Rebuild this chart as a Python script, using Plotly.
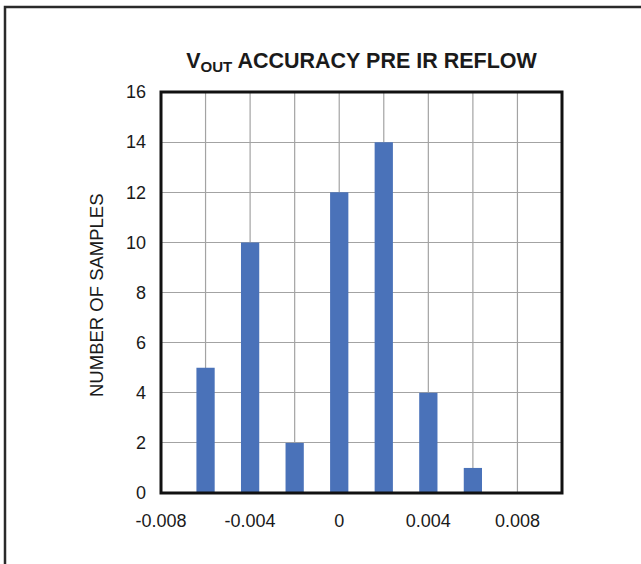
import plotly.graph_objects as go

# Histogram bins (V_OUT error) and counts
bin_centers = [-0.006, -0.004, -0.002, 0.0, 0.002, 0.004, 0.006, 0.008]
sample_counts = [5, 10, 2, 12, 14, 4, 1, 0]

x_tick_vals = [-0.008, -0.004, 0, 0.004, 0.008]
x_tick_text = ["-0.008", "-0.004", "0", "0.004", "0.008"]
y_tick_vals = [0, 2, 4, 6, 8, 10, 12, 14, 16]

FONT = "Liberation Sans Narrow, Arial Narrow, Liberation Sans, Arial, sans-serif"

W, H = 641, 564
L, R, T, B = 161, 79, 92, 71
pw = W - L - R
ph = H - T - B

fig = go.Figure()
fig.add_trace(go.Bar(
    x=bin_centers,
    y=sample_counts,
    width=0.00082,
    marker=dict(color="#4a72b9", line=dict(width=0)),
))

fig.update_layout(
    width=W, height=H,
    margin=dict(l=L, r=R, t=T, b=B),
    paper_bgcolor="white",
    plot_bgcolor="white",
    showlegend=False,
    font=dict(family=FONT, color="#1a1a1a", size=18),
    title=dict(
        text="V<sub>OUT</sub> ACCURACY PRE IR REFLOW",
        x=(L + (W - R)) / 2 / W, xanchor="center",
        y=1 - 60 / H, yanchor="middle",
        font=dict(family=FONT, size=21.5, color="#1a1a1a", weight="bold"),
    ),
    xaxis=dict(
        range=[-0.008, 0.010],
        tickvals=x_tick_vals,
        ticktext=x_tick_text,
        showgrid=False,
        zeroline=False,
        showline=False,
        ticks="",
        ticklabelstandoff=15,
        tickfont=dict(size=18),
    ),
    yaxis=dict(
        range=[0, 16],
        tickvals=y_tick_vals,
        showgrid=True,
        gridcolor="#a3a3a3",
        gridwidth=1.2,
        zeroline=False,
        showline=False,
        ticks="",
        ticklabelstandoff=14,
        tickfont=dict(size=18),
    ),
)

# y axis title
fig.add_annotation(
    text="NUMBER OF SAMPLES", textangle=-90,
    xref="paper", yref="paper",
    x=(96 - L) / pw, y=(H - B - 295) / ph,
    xanchor="center", yanchor="middle", showarrow=False,
    font=dict(size=18.5),
)

# vertical gridlines every 0.002
for gx in [-0.006, -0.004, -0.002, 0.0, 0.002, 0.004, 0.006, 0.008]:
    fig.add_shape(type="line", xref="x", yref="paper", x0=gx, x1=gx, y0=0, y1=1,
                  line=dict(color="#a3a3a3", width=1.2), layer="below")

# heavy plot-area border
fig.add_shape(type="rect", xref="paper", yref="paper", x0=0, x1=1, y0=0, y1=1,
              line=dict(color="#111111", width=3), layer="above")

# outer figure frame (top and left only)
fx = (5 - L) / pw
fy = 1 + (T - 7) / ph
fx_right = (W + 5 - L) / pw
fy_bottom = -(B + 5) / ph
fig.add_shape(type="path", xref="paper", yref="paper",
              path=f"M {fx} {fy_bottom} L {fx} {fy} L {fx_right} {fy}",
              line=dict(color="#2a2a2a", width=2.5))

fig.write_html("out.html", config={"displayModeBar": False},
               post_script="document.body.style.margin='0';")
